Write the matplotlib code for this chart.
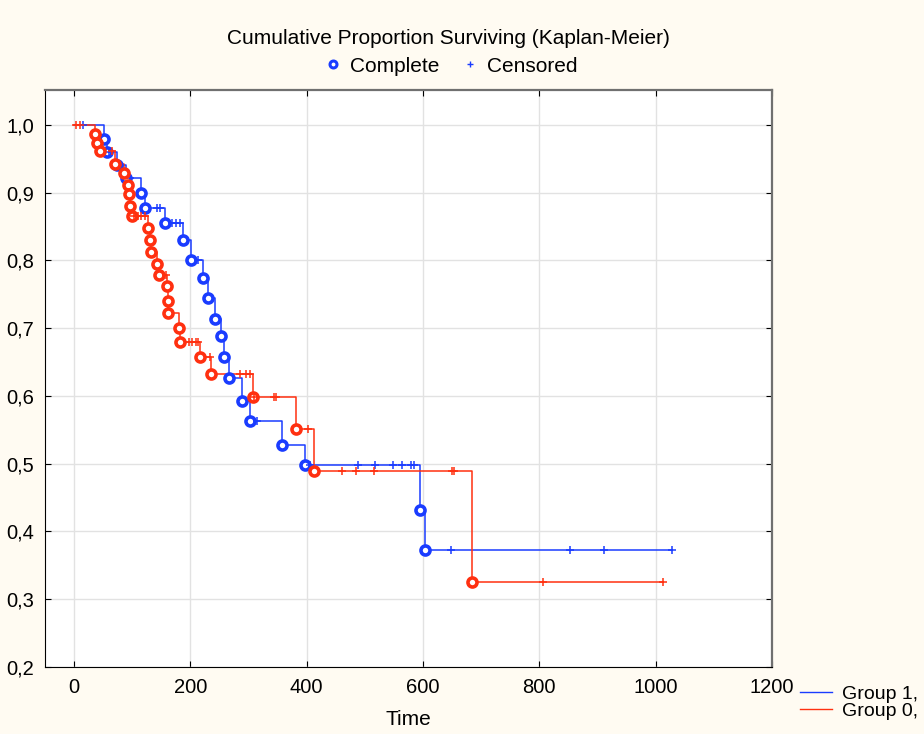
#!/usr/bin/env python3
"""Kaplan-Meier cumulative proportion surviving, two groups."""

import matplotlib
matplotlib.use("Agg")
import matplotlib.pyplot as plt
import numpy as np
from matplotlib.lines import Line2D

plt.rcParams["font.family"] = ["Liberation Sans", "DejaVu Sans"]

BLUE = "#1a3cff"
RED = "#ff3010"
BG = "#fffbf2"

# Group 1 (blue): event times and survival after each event, censor times
g1_event_t = [52, 56, 74, 90, 116, 122, 156, 187, 201, 222, 231, 243, 252,
              258, 267, 288, 302, 358, 398, 594, 604]
g1_event_s = [0.980, 0.960, 0.941, 0.922, 0.899, 0.878, 0.856, 0.830, 0.801,
              0.774, 0.745, 0.714, 0.688, 0.658, 0.627, 0.593, 0.563, 0.528,
              0.498, 0.432, 0.373]
g1_cens_t = [16, 60, 96, 143, 148, 168, 175, 182, 213, 314, 405, 488, 518,
             548, 564, 580, 585, 648, 852, 912, 1028]

# Group 0 (red)
g0_event_t = [36, 40, 45, 70, 86, 92, 95, 97, 99, 128, 131, 132, 142, 147,
              160, 161, 162, 181, 182, 216, 236, 307, 382, 412, 684]
g0_event_s = [0.986, 0.974, 0.961, 0.943, 0.929, 0.912, 0.898, 0.881, 0.865,
              0.848, 0.830, 0.813, 0.795, 0.779, 0.762, 0.740, 0.722, 0.700,
              0.679, 0.658, 0.632, 0.598, 0.551, 0.489, 0.326]
g0_cens_t = [4, 10, 66, 104, 110, 116, 122, 159, 197, 203, 209, 213, 233,
             285, 296, 303, 310, 343, 347, 403, 460, 485, 515, 650, 654,
             806, 1012]


def surv_at(t, ev_t, ev_s):
    s = 1.0
    for et, es in zip(ev_t, ev_s):
        if et <= t:
            s = es
    return s


def draw_group(ax, ev_t, ev_s, cens_t, color):
    t_end = max(max(cens_t), max(ev_t))
    xs = [0] + list(ev_t) + [t_end]
    ys = [1.0] + list(ev_s) + [ev_s[-1]]
    ax.step(xs, ys, where="post", color=color, lw=1.1, zorder=3)
    ax.plot(ev_t, ev_s, "o", ms=6.5, mfc="white", mec=color, mew=2.6,
            ls="none", zorder=4)
    cy = [surv_at(t, ev_t, ev_s) for t in cens_t]
    ax.plot(cens_t, cy, "+", ms=6, mew=1.1, color=color, ls="none", zorder=4)


fig = plt.figure(figsize=(9.24, 7.34), dpi=100, facecolor=BG)
ax = fig.add_axes([0.0486, 0.0913, 0.7869, 0.7861])
ax.set_facecolor("white")

draw_group(ax, g1_event_t, g1_event_s, g1_cens_t, BLUE)
draw_group(ax, g0_event_t, g0_event_s, g0_cens_t, RED)

ax.set_xlim(-50, 1200)
ax.set_ylim(0.2, 1.0516)
ax.set_xticks(np.arange(0, 1201, 200))
ax.set_yticks(np.arange(0.2, 1.01, 0.1))
ax.set_yticklabels([f"{v:.1f}".replace(".", ",") for v in np.arange(0.2, 1.01, 0.1)])
ax.grid(True, color="#e2e2e2", lw=1, zorder=0)
ax.set_axisbelow(True)
ax.tick_params(direction="in", length=4, labelsize=14.5, top=True, right=True,
               color="black", pad=8)
for side in ("left", "bottom"):
    ax.spines[side].set_color("black")
for side in ("top", "right"):
    ax.spines[side].set_color("#707070")
    ax.spines[side].set_linewidth(1.6)
ax.set_xlabel("Time", fontsize=15, labelpad=9)

fig.text(0.485, 1 - 38 / 734, "Cumulative Proportion Surviving (Kaplan-Meier)",
         ha="center", va="center", fontsize=15)

top_handles = [
    Line2D([], [], marker="o", ls="none", ms=5, mfc="white", mec=BLUE, mew=2.2),
    Line2D([], [], marker="+", ls="none", ms=5, color=BLUE, mew=1),
]
fig.legend(top_handles, ["Complete", "Censored"], loc="center",
           bbox_to_anchor=(0.487, 1 - 66 / 734), ncol=2, frameon=False,
           fontsize=15, columnspacing=1.0, handlelength=1.0,
           handletextpad=0.3)

grp_handles = [Line2D([], [], color=BLUE, lw=1), Line2D([], [], color=RED, lw=1)]
fig.legend(grp_handles, ["Group 1,", "Group 0,"], loc="upper left",
           bbox_to_anchor=(0.866, 1 - 685 / 734), frameon=False, fontsize=14,
           handlelength=1.65, handletextpad=0.5, labelspacing=0.0,
           borderpad=0, borderaxespad=0)

fig.savefig("out.png", dpi=100, facecolor=BG)
